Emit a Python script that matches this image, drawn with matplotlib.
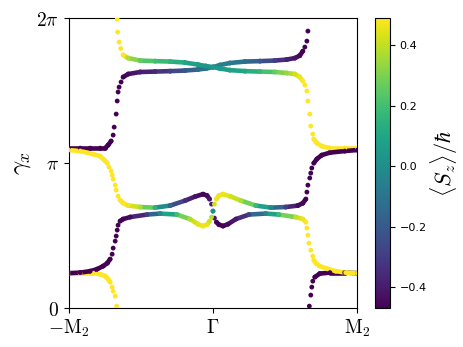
import matplotlib
matplotlib.use('Agg')
import matplotlib.pyplot as plt
import numpy as np
from matplotlib.collections import LineCollection
from matplotlib.colors import Normalize

plt.rcParams['mathtext.fontset'] = 'cm'

# Wilson loop bands: k in units of M2, gamma in units of pi, Sz in hbar
k_a = [-1.0, -0.919, -0.850, -0.781, -0.746, -0.726, -0.705, -0.691, -0.684, -0.670, -0.663,
       -0.657, -0.650, -0.636, -0.622, -0.587, -0.504, -0.401, -0.297, -0.194, -0.104, -0.048,
       0.0, 0.048, 0.117, 0.221, 0.325, 0.428, 0.511, 0.567, 0.601, 0.622, 0.636, 0.650,
       0.657, 0.667, 0.677, 0.684, 0.691, 0.705, 0.739, 0.809, 0.912, 1.0]
g_a = [1.103, 1.103, 1.103, 1.103, 1.103, 1.124, 1.152, 1.193, 1.248, 1.338, 1.428,
       1.490, 1.524, 1.559, 1.593, 1.614, 1.628, 1.631, 1.634, 1.638, 1.645, 1.652,
       1.662, 1.676, 1.690, 1.700, 1.703, 1.707, 1.714, 1.724, 1.741, 1.772, 1.800, 1.841,
       1.910, 0.014, 0.090, 0.145, 0.186, 0.214, 0.238, 0.245, 0.245, 0.241]
s_a = [-0.47, -0.47, -0.47, -0.47, -0.47, -0.47, -0.47, -0.47, -0.47, -0.47, -0.47,
       -0.47, -0.47, -0.47, -0.47, -0.44, -0.40, -0.36, -0.29, -0.22, -0.14, -0.10,
       -0.06, -0.06, -0.07, -0.12, -0.20, -0.30, -0.38, -0.42, -0.45, -0.47, -0.47, -0.47,
       -0.47, -0.47, -0.47, -0.47, -0.47, -0.47, -0.47, -0.47, -0.47, -0.47]

k_b = [-1.0, -0.919, -0.829, -0.781, -0.746, -0.726, -0.712, -0.698, -0.691, -0.677, -0.667,
       -0.663, -0.660, -0.650, -0.639, -0.622, -0.587, -0.504, -0.401, -0.297, -0.194, -0.104,
       -0.048, 0.0, 0.048, 0.117, 0.221, 0.325, 0.428, 0.511, 0.567, 0.601, 0.622, 0.636,
       0.650, 0.657, 0.670, 0.677, 0.691, 0.698, 0.719, 0.753, 0.809, 0.912, 1.0]
g_b = [0.241, 0.241, 0.241, 0.234, 0.221, 0.200, 0.179, 0.145, 0.117, 0.083, 0.014,
       1.993, 1.903, 1.834, 1.790, 1.745, 1.724, 1.707, 1.703, 1.700, 1.693, 1.679,
       1.669, 1.662, 1.652, 1.641, 1.634, 1.631, 1.628, 1.621, 1.614, 1.593, 1.566, 1.538,
       1.497, 1.428, 1.338, 1.255, 1.200, 1.166, 1.138, 1.117, 1.103, 1.103, 1.103]
s_b = [0.49, 0.49, 0.49, 0.49, 0.49, 0.49, 0.49, 0.49, 0.49, 0.49, 0.49,
       0.49, 0.49, 0.49, 0.49, 0.49, 0.38, 0.26, 0.20, 0.16, 0.10, 0.06,
       0.04, 0.04, 0.05, 0.07, 0.10, 0.17, 0.26, 0.34, 0.42, 0.46, 0.49, 0.49,
       0.49, 0.49, 0.49, 0.49, 0.49, 0.49, 0.49, 0.49, 0.49, 0.49, 0.49]

k_c = [-1.0, -0.919, -0.829, -0.781, -0.753, -0.732, -0.719, -0.705, -0.698, -0.691, -0.677,
       -0.670, -0.657, -0.643, -0.622, -0.587, -0.504, -0.401, -0.297, -0.194, -0.124, -0.069,
       -0.041, -0.024, -0.010, 0.0, 0.010, 0.024, 0.041, 0.069, 0.104, 0.159, 0.249, 0.366,
       0.456, 0.573, 0.622, 0.643, 0.650, 0.657, 0.664, 0.677, 0.691, 0.698, 0.712, 0.739,
       0.788, 0.850, 0.919, 1.0]
g_c = [1.090, 1.083, 1.062, 1.048, 1.021, 1.000, 0.972, 0.945, 0.917, 0.890, 0.848,
       0.814, 0.772, 0.745, 0.724, 0.707, 0.697, 0.693, 0.707, 0.741, 0.769, 0.786,
       0.776, 0.752, 0.717, 0.669, 0.621, 0.593, 0.576, 0.566, 0.579, 0.614, 0.645, 0.652,
       0.645, 0.628, 0.614, 0.593, 0.552, 0.503, 0.448, 0.400, 0.359, 0.331, 0.310, 0.290,
       0.272, 0.255, 0.245, 0.241]
s_c = [0.49, 0.49, 0.49, 0.49, 0.49, 0.49, 0.49, 0.49, 0.49, 0.49, 0.49,
       0.49, 0.49, 0.49, 0.49, 0.47, 0.38, 0.15, -0.15, -0.35, -0.42, -0.46,
       -0.45, -0.42, -0.38, 0.0, -0.42, -0.46, -0.47, -0.46, -0.44, -0.40, -0.28, -0.02,
       0.18, 0.40, 0.46, 0.49, 0.49, 0.49, 0.49, 0.49, 0.49, 0.49, 0.49, 0.49,
       0.49, 0.49, 0.49, 0.49]

k_d = [-1.0, -0.919, -0.850, -0.802, -0.760, -0.732, -0.712, -0.698, -0.691, -0.677, -0.670,
       -0.663, -0.657, -0.643, -0.622, -0.573, -0.456, -0.366, -0.249, -0.159, -0.104, -0.069,
       -0.041, -0.024, -0.010, 0.0, 0.010, 0.024, 0.041, 0.069, 0.124, 0.194, 0.297, 0.401,
       0.504, 0.587, 0.622, 0.643, 0.650, 0.657, 0.670, 0.677, 0.684, 0.698, 0.719, 0.753,
       0.809, 0.912, 1.0]
g_d = [0.241, 0.245, 0.255, 0.269, 0.290, 0.310, 0.338, 0.372, 0.414, 0.462, 0.497,
       0.538, 0.572, 0.600, 0.614, 0.628, 0.645, 0.652, 0.645, 0.614, 0.579, 0.566,
       0.576, 0.600, 0.628, 0.669, 0.717, 0.752, 0.776, 0.786, 0.769, 0.741, 0.707, 0.693,
       0.697, 0.707, 0.724, 0.752, 0.800, 0.848, 0.897, 0.931, 0.966, 1.000, 1.028, 1.055,
       1.072, 1.083, 1.090]
s_d = [-0.47, -0.47, -0.47, -0.47, -0.47, -0.47, -0.47, -0.47, -0.47, -0.47, -0.47,
       -0.47, -0.47, -0.47, -0.47, -0.44, -0.30, -0.02, 0.20, 0.38, 0.45, 0.47,
       0.46, 0.42, 0.38, 0.0, 0.42, 0.46, 0.47, 0.46, 0.43, 0.38, 0.18, -0.02,
       -0.30, -0.44, -0.46, -0.47, -0.47, -0.47, -0.47, -0.47, -0.47, -0.47, -0.47, -0.47,
       -0.47, -0.47, -0.47]

xtick_labels = [r'$-\mathrm{M}_2$', r'$\Gamma$', r'$\mathrm{M}_2$']
ytick_labels = [r'$0$', r'$\pi$', r'$2\pi$']
cbar_ticks = [-0.4, -0.2, 0.0, 0.2, 0.4]

fig = plt.figure(figsize=(4.63, 3.47), dpi=100)
ax = fig.add_axes([0.148, 0.112, 0.624, 0.836])
cax = fig.add_axes([0.810, 0.112, 0.032, 0.836])
norm = Normalize(vmin=-0.47, vmax=0.49)
cmap = plt.get_cmap('viridis')

for k, g, s in [(k_a, g_a, s_a), (k_b, g_b, s_b), (k_c, g_c, s_c), (k_d, g_d, s_d)]:
    k = np.array(k)
    g = np.array(g)
    s = np.array(s)
    y = np.pi * g
    pts = np.column_stack([k, y])
    segs = np.stack([pts[:-1], pts[1:]], axis=1)
    # join only the gentle parts, steep parts stay as loose dots
    dg = np.abs(np.diff(g))
    dk = np.abs(np.diff(k))
    keep = (dg < 0.025) | (dg < 1.5 * dk)
    lc = LineCollection(segs[keep], cmap=cmap, norm=norm, linewidths=3.3, capstyle='round')
    lc.set_array(((s[:-1] + s[1:]) / 2)[keep])
    ax.add_collection(lc)
    sc = ax.scatter(k, y, c=s, cmap=cmap, norm=norm, s=12, linewidths=0, zorder=3)

ax.set_xlim(-1, 1)
ax.set_ylim(0, 2 * np.pi)
ax.set_xticks([-1, 0, 1], xtick_labels, fontsize=14)
ax.set_yticks([0, np.pi, 2 * np.pi], ytick_labels, fontsize=14)
ax.set_ylabel(r'$\gamma_x$', fontsize=18, labelpad=2)

cb = fig.colorbar(sc, cax=cax)
cb.set_ticks(cbar_ticks)
cb.ax.tick_params(labelsize=8)
cb.set_label(r'$\langle S_z\rangle/\hbar$', fontsize=16, labelpad=1)

fig.savefig('out.png', dpi=100)
